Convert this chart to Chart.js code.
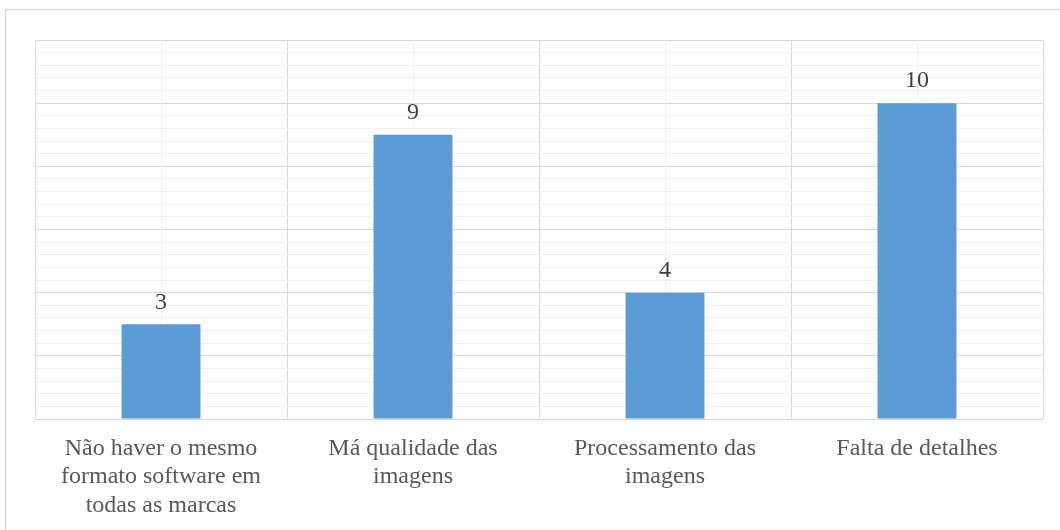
<!DOCTYPE html>
<html>
<head>
<meta charset="utf-8">
<script src="https://cdn.jsdelivr.net/npm/chart.js@4/dist/chart.umd.min.js"></script>
<style>
  html, body { margin: 0; padding: 0; background: #ffffff; }
  #wrap { position: relative; width: 1060px; height: 530px; }
  canvas { display: block; }
  .fontprobe { position: absolute; left: -9999px; font-family: 'Liberation Serif'; }
</style>
</head>
<body>
<span class="fontprobe">Não 0123456789</span>
<div id="wrap"><canvas id="chart" width="1060" height="530"></canvas></div>
<script>
// Categories (multi-line axis labels) and counts
const categories = [
  ["Não haver o mesmo", "formato software em", "todas as marcas"],
  ["Má qualidade das", "imagens"],
  ["Processamento das", "imagens"],
  "Falta de detalhes"
];
const counts = [3, 9, 4, 10];

// Value axis range
const yMin = 0;
const yMax = 12;
const yMajorStep = 2;
const yMinorStep = 0.4;

const FONT = '"Liberation Serif", "Times New Roman", serif';
const MAJOR_GRID = '#d9d9d9';
const MINOR_GRID = '#f0f0f0';

// Light frame around the whole chart
const framePlugin = {
  id: 'frame',
  beforeDraw(chart) {
    const ctx = chart.ctx;
    ctx.save();
    ctx.fillStyle = '#ffffff';
    ctx.fillRect(0, 0, chart.width, chart.height);
    ctx.strokeStyle = '#d9d9d9';
    ctx.lineWidth = 1.5;
    ctx.strokeRect(5.5, 9.5, chart.width + 20, chart.height + 20);
    ctx.restore();
  }
};

// Faint vertical lines through the middle of each category
const centerLinesPlugin = {
  id: 'centerLines',
  beforeDatasetsDraw(chart) {
    const x = chart.scales.x;
    const area = chart.chartArea;
    const ctx = chart.ctx;
    ctx.save();
    ctx.strokeStyle = MINOR_GRID;
    ctx.lineWidth = 1;
    for (let i = 0; i < categories.length; i++) {
      const px = Math.round(x.getPixelForValue(i)) + 0.5;
      ctx.beginPath();
      ctx.moveTo(px, area.top);
      ctx.lineTo(px, area.bottom);
      ctx.stroke();
    }
    ctx.restore();
  }
};

// Value labels above bars
const valueLabelsPlugin = {
  id: 'valueLabels',
  afterDatasetsDraw(chart) {
    const ctx = chart.ctx;
    const meta = chart.getDatasetMeta(0);
    ctx.save();
    ctx.font = '24px ' + FONT;
    ctx.fillStyle = '#404040';
    ctx.textAlign = 'center';
    ctx.textBaseline = 'bottom';
    meta.data.forEach((bar, i) => {
      ctx.fillText(String(chart.data.datasets[0].data[i]), bar.x, bar.y - 10);
    });
    ctx.restore();
  }
};

const isMajor = v => Math.abs(v / yMajorStep - Math.round(v / yMajorStep)) < 1e-6;

function drawChart() {
  new Chart(document.getElementById('chart'), {
    type: 'bar',
    data: {
      labels: categories,
      datasets: [{
        data: counts,
        backgroundColor: '#5b9bd5',
        borderWidth: 0,
        categoryPercentage: 1,
        barPercentage: 0.313
      }]
    },
    options: {
      responsive: false,
      animation: false,
      devicePixelRatio: 1,
      layout: { padding: { left: 35, top: 40, right: 17, bottom: 0 } },
      plugins: {
        legend: { display: false },
        tooltip: { enabled: false }
      },
      scales: {
        x: {
          type: 'category',
          grid: {
            display: true,
            offset: true,
            color: MAJOR_GRID,
            lineWidth: 1,
            drawTicks: false
          },
          border: { display: true, color: MAJOR_GRID, width: 1 },
          ticks: {
            color: '#595959',
            font: { family: FONT, size: 24, lineHeight: 1.19 },
            padding: 15,
            maxRotation: 0,
            minRotation: 0,
            autoSkip: false
          },
          afterFit(scale) { scale.height = 111; }
        },
        y: {
          min: yMin,
          max: yMax,
          grid: {
            display: true,
            drawTicks: false,
            lineWidth: 1,
            color: ctx => isMajor(ctx.tick.value) ? MAJOR_GRID : MINOR_GRID
          },
          border: { display: true, color: MAJOR_GRID, width: 1 },
          ticks: { display: false, stepSize: yMinorStep },
          afterFit(scale) { scale.width = 0; }
        }
      }
    },
    plugins: [framePlugin, centerLinesPlugin, valueLabelsPlugin]
  });
}

if (document.fonts && document.fonts.load) {
  document.fonts.load('24px "Liberation Serif"').then(drawChart, drawChart);
} else {
  drawChart();
}
</script>
</body>
</html>
